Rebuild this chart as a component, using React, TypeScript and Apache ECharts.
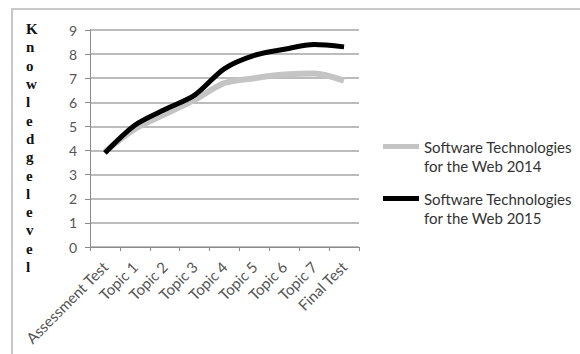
import React, { useEffect, useRef } from "react";
import * as echarts from "echarts";

const categories = [
  "Assessment Test",
  "Topic 1",
  "Topic 2",
  "Topic 3",
  "Topic 4",
  "Topic 5",
  "Topic 6",
  "Topic 7",
  "Final Test",
];

const series2014 = [3.95, 4.9, 5.5, 6.1, 6.8, 7.0, 7.15, 7.2, 6.9];
const series2015 = [3.9, 5.05, 5.7, 6.3, 7.4, 7.95, 8.2, 8.4, 8.3];

const name2014 = "Software Technologies\nfor the Web 2014";
const name2015 = "Software Technologies\nfor the Web 2015";

const yTicks = { min: 0, max: 9, interval: 1 };
const axisTitle = "Knowledgelevel";

const FONT = "Lato, 'Open Sans', sans-serif";

// Legend swatch: a thick bar level with the first text line; the two
// zero-area segments only stretch the icon box to the two-line text height.
const legendIcon =
  "path://M0,7L36,7L36,12L0,12Z M0,0L0.01,0 M0,38L0.01,38";

export default function App() {
  const ref = useRef<HTMLDivElement>(null);

  useEffect(() => {
    if (!ref.current) return;
    const chart = echarts.init(ref.current, undefined, { renderer: "svg" });
    chart.setOption({
      animation: false,
      backgroundColor: "#ffffff",
      grid: { left: 90, right: 221, top: 30, bottom: 107, containLabel: false },
      legend: {
        orient: "vertical",
        left: 378,
        top: 132,
        itemWidth: 36,
        itemHeight: 38,
        itemGap: 14,
        icon: legendIcon,
        itemStyle: { borderWidth: 0 },
        data: [name2014, name2015],
        textStyle: {
          fontFamily: FONT,
          fontSize: 15,
          color: "#333",
          lineHeight: 19,
        },
      },
      xAxis: {
        type: "category",
        data: categories,
        boundaryGap: true,
        axisLine: { lineStyle: { color: "#8c8c8c", width: 1 } },
        axisTick: { show: true, length: 4, lineStyle: { color: "#8c8c8c" } },
        axisLabel: {
          rotate: 45,
          interval: 0,
          margin: 17,
          fontFamily: FONT,
          fontSize: 15,
          color: "#555",
        },
      },
      yAxis: {
        type: "value",
        min: yTicks.min,
        max: yTicks.max,
        interval: yTicks.interval,
        axisLine: { show: true, lineStyle: { color: "#8c8c8c", width: 1 } },
        axisTick: { show: true, length: 5, lineStyle: { color: "#8c8c8c" } },
        axisLabel: {
          margin: 13,
          fontFamily: FONT,
          fontSize: 14,
          color: "#555",
        },
        splitLine: { show: true, lineStyle: { color: "#a6a6a6", width: 1.5 } },
      },
      series: [
        {
          name: name2014,
          type: "line",
          data: series2014,
          smooth: 0.3,
          showSymbol: false,
          symbol: "none",
          color: "#c4c4c4",
          lineStyle: { color: "#c4c4c4", width: 6 },
          z: 2,
        },
        {
          name: name2015,
          type: "line",
          data: series2015,
          smooth: 0.3,
          showSymbol: false,
          symbol: "none",
          color: "#000000",
          lineStyle: { color: "#000000", width: 5 },
          z: 3,
        },
      ],
      graphic: [
        {
          type: "line",
          shape: { x1: 11, y1: 9, x2: 580, y2: 9 },
          style: { stroke: "#c8c8c8", lineWidth: 2 },
          silent: true,
        },
        {
          type: "line",
          shape: { x1: 12, y1: 9, x2: 12, y2: 354 },
          style: { stroke: "#c8c8c8", lineWidth: 2 },
          silent: true,
        },
        {
          type: "text",
          left: 26,
          top: 20,
          style: {
            text: axisTitle.split("").join("\n"),
            font: "bold 15px 'Liberation Serif', serif",
            fill: "#111",
            lineHeight: 18.3,
            align: "center",
          },
          silent: true,
        },
      ],
    });
    return () => chart.dispose();
  }, []);

  return (
    <div
      ref={ref}
      style={{ position: "absolute", left: 0, top: 0, width: 580, height: 354 }}
    />
  );
}
